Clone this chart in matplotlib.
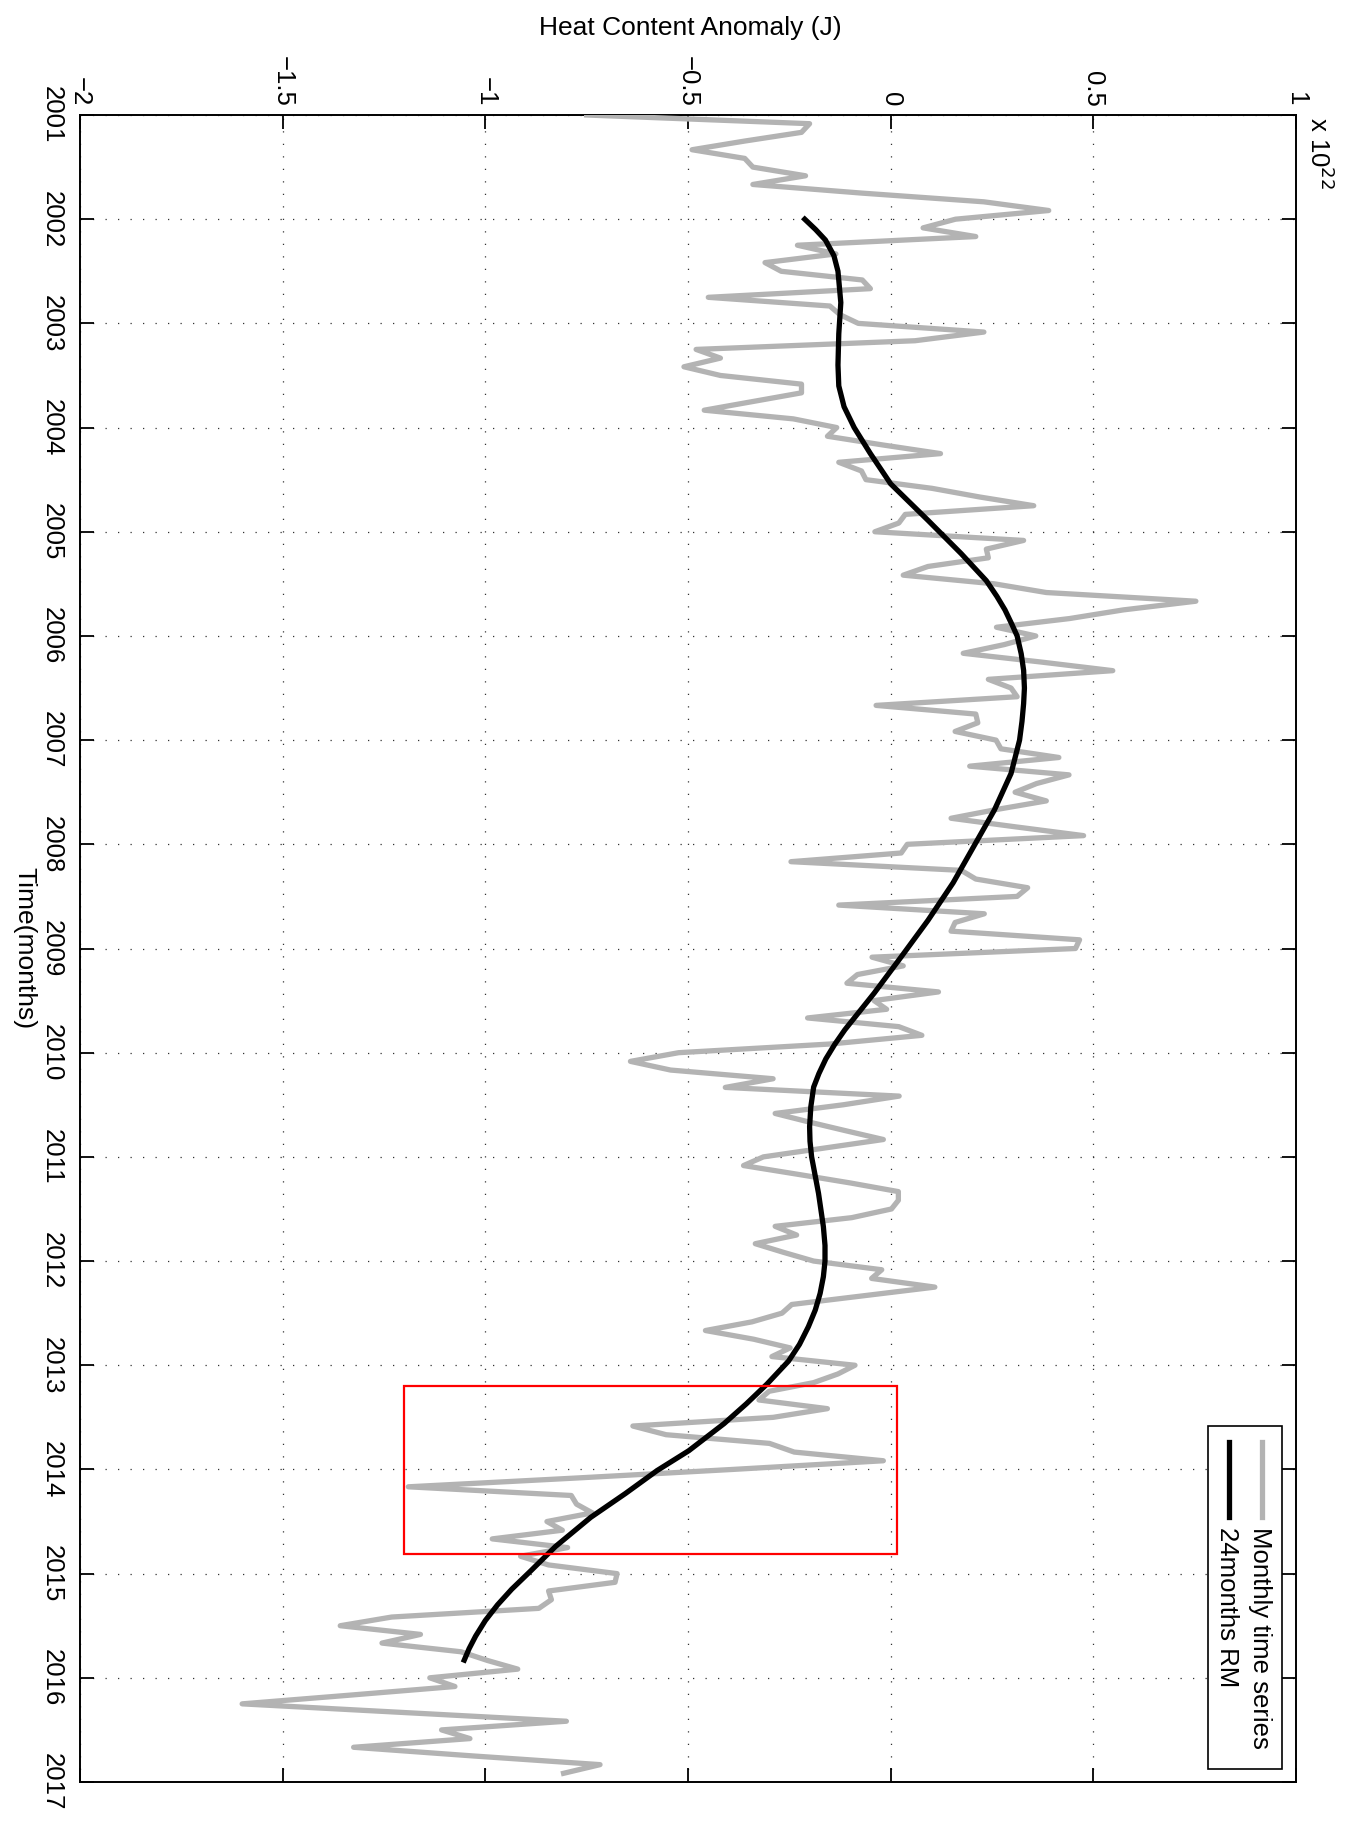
import numpy as np
import matplotlib
matplotlib.use("Agg")
import matplotlib.pyplot as plt
import matplotlib.patches

plt.rcParams['font.family'] = ['Liberation Sans', 'DejaVu Sans']

# monthly heat content anomaly, units of 1e22 J, Jan 2001 .. Dec 2016
monthly_anomaly = [
    -0.75, -0.20, -0.22, -0.36, -0.49, -0.36, -0.34, -0.21, -0.34, -0.07, 0.23, 0.39,        # 2001
    0.16, 0.08, 0.21, -0.23, -0.135, -0.31, -0.27, -0.07, -0.05, -0.45, -0.15, -0.125,       # 2002
    -0.08, 0.23, 0.06, -0.48, -0.42, -0.51, -0.42, -0.22, -0.22, -0.34, -0.46, -0.24,        # 2003
    -0.133, -0.156, -0.02, 0.123, -0.128, -0.072, -0.061, 0.102, 0.22, 0.353, 0.036, 0.02,   # 2004
    -0.039, 0.328, 0.236, 0.241, 0.092, 0.031, 0.256, 0.384, 0.753, 0.574, 0.441, 0.261,     # 2005
    0.358, 0.28, 0.179, 0.37, 0.548, 0.241, 0.297, 0.312, -0.036, 0.21, 0.215, 0.159,        # 2006
    0.26, 0.272, 0.415, 0.195, 0.44, 0.36, 0.307, 0.384, 0.26, 0.149, 0.31, 0.476,           # 2007
    0.041, 0.026, -0.246, 0.174, 0.21, 0.338, 0.312, -0.128, 0.231, 0.159, 0.149, 0.466,     # 2008
    0.456, -0.046, 0.031, -0.082, -0.108, 0.118, -0.041, -0.01, -0.205, 0.02, 0.077, -0.149, # 2009
    -0.523, -0.642, -0.543, -0.29, -0.408, 0.021, -0.117, -0.285, -0.2, -0.11, -0.018, -0.166, # 2010
    -0.314, -0.363, -0.23, -0.10, 0.019, 0.019, 0.002, -0.096, -0.285, -0.232, -0.334, -0.264, # 2011
    -0.19, -0.022, -0.047, 0.109, -0.067, -0.244, -0.268, -0.342, -0.457, -0.338, -0.248, -0.293, # 2012
    -0.088, -0.13, -0.19, -0.30, -0.325, -0.156, -0.29, -0.636, -0.554, -0.299, -0.238, -0.018, # 2013
    -0.39, -0.78, -1.19, -0.788, -0.775, -0.736, -0.848, -0.81, -0.983, -0.797, -0.913, -0.844, # 2014
    -0.675, -0.68, -0.844, -0.837, -0.868, -1.231, -1.358, -1.16, -1.255, -1.06, -0.995, -0.92, # 2015
    -1.137, -1.075, -1.335, -1.60, -1.2, -0.80, -1.108, -1.038, -1.325, -1.03, -0.717, -0.807,  # 2016
]
first_year = 2001
months = first_year + np.arange(len(monthly_anomaly)) / 12.0

# 24 month running mean
rm_time = [2002.0, 2002.1, 2002.2, 2002.35, 2002.5, 2002.8, 2003.1, 2003.4, 2003.6,
           2003.8, 2004.0, 2004.25, 2004.54, 2004.89, 2005.21, 2005.47, 2005.62, 2005.75,
           2005.88, 2006.0, 2006.17, 2006.33, 2006.5, 2006.65, 2006.82, 2007.0, 2007.32,
           2007.67, 2008.02, 2008.37, 2008.73, 2009.08, 2009.43, 2009.78, 2009.92, 2010.06,
           2010.2, 2010.33, 2010.52, 2010.71, 2010.85, 2011.0, 2011.35, 2011.67, 2011.85,
           2012.0, 2012.15, 2012.31, 2012.47, 2012.63, 2012.8, 2012.96, 2013.18, 2013.37,
           2013.56, 2013.82, 2014.01, 2014.23, 2014.46, 2014.74, 2014.97, 2015.15, 2015.3,
           2015.45, 2015.6, 2015.72, 2015.83]
rm_value = [-0.212, -0.185, -0.161, -0.14, -0.13, -0.123, -0.128, -0.13, -0.128,
            -0.115, -0.09, -0.05, 0.0, 0.092, 0.174, 0.236, 0.262, 0.282,
            0.298, 0.312, 0.322, 0.328, 0.33, 0.328, 0.324, 0.318, 0.297,
            0.256, 0.205, 0.154, 0.092, 0.026, -0.041, -0.113, -0.138, -0.16,
            -0.177, -0.19, -0.197, -0.2, -0.199, -0.195, -0.178, -0.166, -0.162,
            -0.162, -0.166, -0.174, -0.186, -0.203, -0.225, -0.252, -0.305, -0.356,
            -0.411, -0.498, -0.576, -0.654, -0.74, -0.827, -0.887, -0.935, -0.97,
            -1.0, -1.024, -1.04, -1.052]

# highlighted window (value range, time range)
box_value = (-1.2, 0.015)
box_time = (2013.2, 2014.81)

value_ticks = [-2, -1.5, -1, -0.5, 0, 0.5, 1]
value_labels = ["\u22122", "\u22121.5", "\u22121", "\u22120.5", "0", "0.5", "1"]
year_ticks = list(range(2001, 2018))

W, H = 1358, 1821
fig = plt.figure(figsize=(W / 100, H / 100), dpi=100)
ax = fig.add_axes([80 / W, 1 - 1782 / H, 1216 / W, 1667 / H])

fs = 18.5
gray = "#b3b3b3"
ax.plot(monthly_anomaly, months, color=gray, lw=3.8, zorder=3)
ax.plot(rm_value, rm_time, color="black", lw=3.8, zorder=4)

rect = matplotlib.patches.Rectangle((box_value[0], box_time[0]), box_value[1] - box_value[0],
                                    box_time[1] - box_time[0], fill=False,
                                    edgecolor="red", lw=1.6, zorder=5)
ax.add_patch(rect)

ax.set_xlim(-2, 1)
ax.set_ylim(2017, 2001)
ax.set_xticks(value_ticks)
ax.set_xticklabels(value_labels, rotation=-90)
ax.set_yticks(year_ticks)
ax.set_yticklabels([str(y) for y in year_ticks], rotation=-90, va="center")

ax.xaxis.set_ticks_position("both")
ax.yaxis.set_ticks_position("both")
ax.tick_params(axis="x", labeltop=True, labelbottom=False, pad=6)
ax.tick_params(axis="y", pad=12)
ax.tick_params(direction="in", length=10, width=1.3, labelsize=fs)
for sp in ax.spines.values():
    sp.set_linewidth(1.4)

ax.grid(True, color="0.2", linestyle=(0, (1, 9)), lw=0.9, zorder=1)
ax.set_axisbelow(True)

fig.text(690 / W, 1 - 28 / H, "Heat Content Anomaly (J)", ha="center", va="center", fontsize=19)
fig.text(24 / W, 1 - 948 / H, "Time(months)", ha="center", va="center", rotation=-90, fontsize=19)
fig.text(1305 / W, 1 - 117 / H, r"x 10$^{22}$", ha="left", va="top", rotation=-90, fontsize=fs)

# legend drawn by hand, rotated like the rest of the figure
leg = matplotlib.patches.Rectangle((0.9276, 0.0078), 0.0609, 0.2058, transform=ax.transAxes,
                                   facecolor="white", edgecolor="black", lw=1.2, zorder=6)
ax.add_patch(leg)
ax.plot([0.972, 0.972], [0.204, 0.159], transform=ax.transAxes, color=gray, lw=3.8, zorder=7)
ax.plot([0.945, 0.945], [0.204, 0.159], transform=ax.transAxes, color="black", lw=3.8, zorder=7)
ax.text(0.9705, 0.153, "Monthly time series", transform=ax.transAxes, rotation=-90,
        ha="center", va="top", fontsize=fs, zorder=8)
ax.text(0.9435, 0.153, "24months RM", transform=ax.transAxes, rotation=-90,
        ha="center", va="top", fontsize=fs, zorder=8)

fig.savefig("out.png", dpi=100, facecolor="white")
